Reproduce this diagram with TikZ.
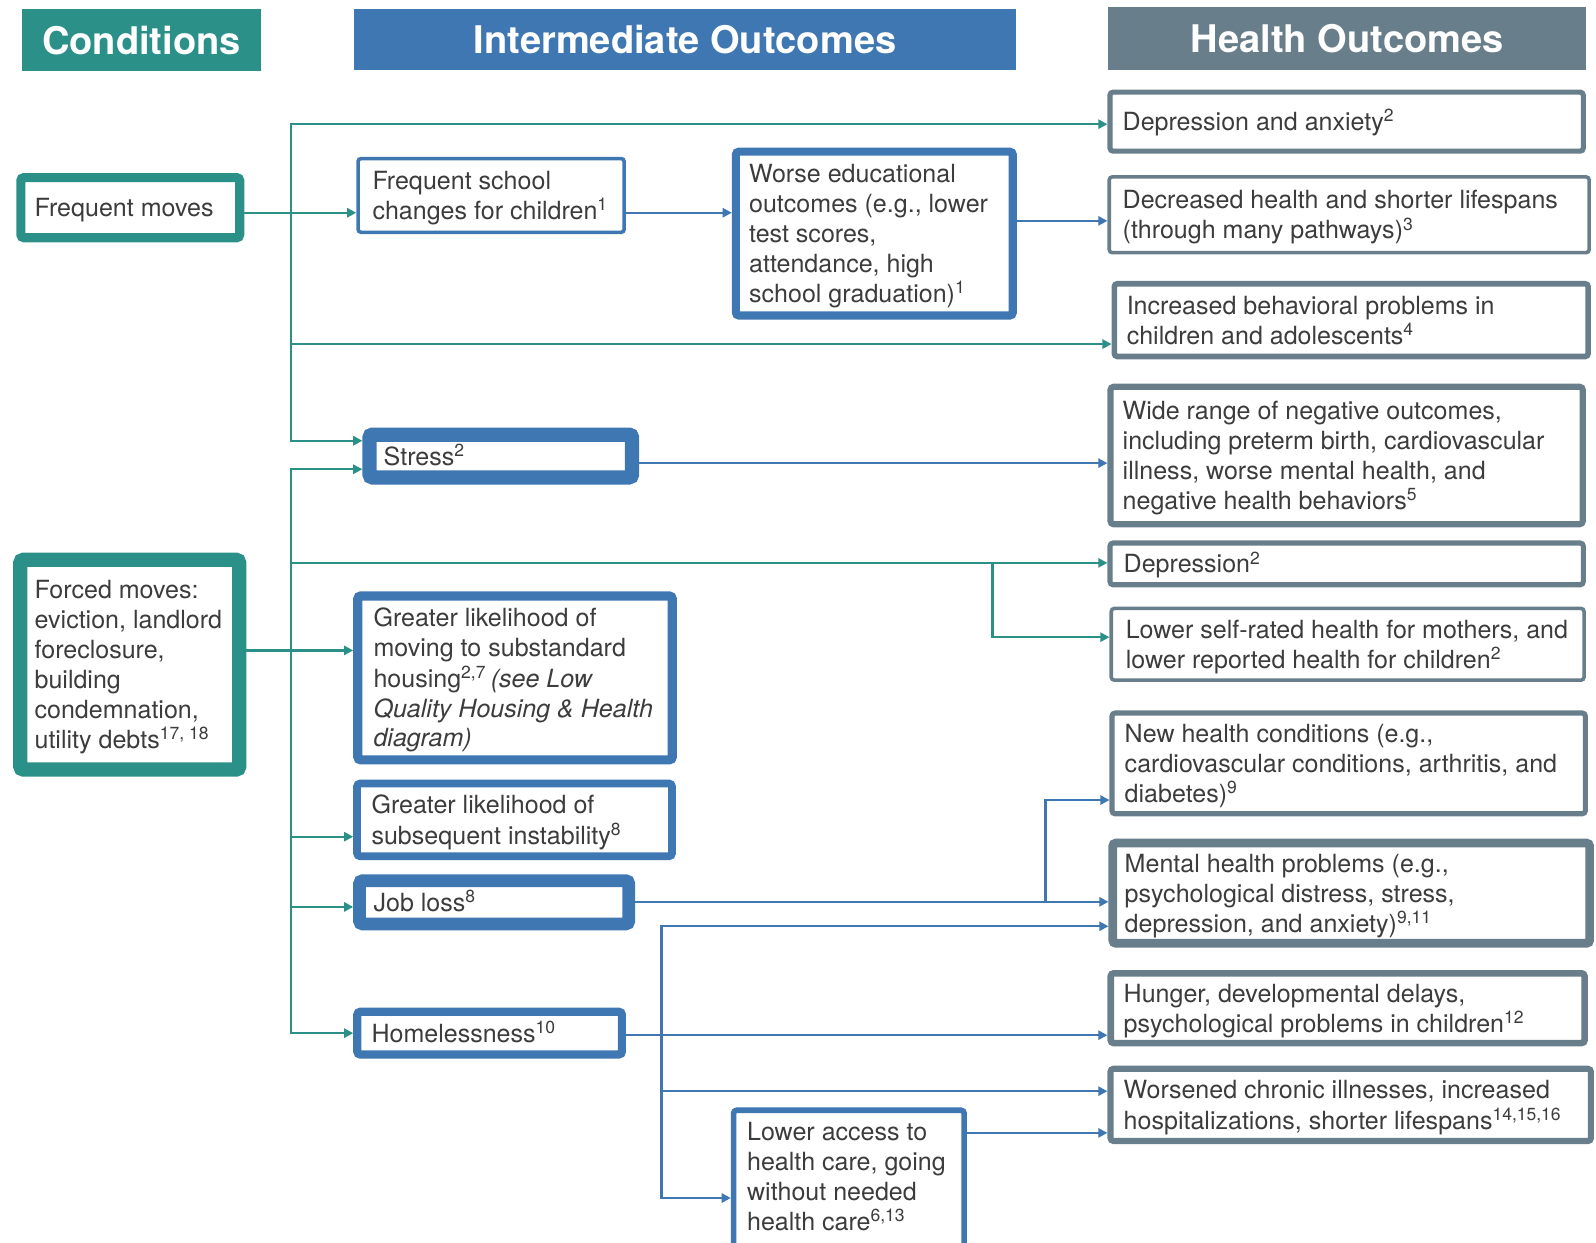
\documentclass[tikz,border=0pt]{standalone}
\usepackage{fontspec}
\setmainfont{TeX Gyre Heros}
\usetikzlibrary{arrows.meta}
\definecolor{condteal}{HTML}{2B9088}
\definecolor{interblue}{HTML}{3F77B3}
\definecolor{healthgray}{HTML}{687F8B}
\definecolor{txtgray}{HTML}{3C3C3C}
\newcommand{\bodyfont}{\fontsize{12.3}{14.7}\selectfont}
\newcommand{\headfont}{\fontsize{18.7}{22}\selectfont\bfseries}
\newcommand{\boxlines}[2]{\makebox[#1][l]{\begin{tabular}{@{}l@{}}\rule{0pt}{13.3pt}#2\end{tabular}}}
\newcommand{\rf}[1]{\textsuperscript{#1}}
\tikzset{
  header/.style  = {rectangle, inner sep=0pt, text=white, font=\headfont},
  basebox/.style = {rectangle, rounded corners=1.5pt, fill=white,
                    inner sep=0pt, text=txtgray, font=\bodyfont},
  condbox/.style   = {basebox, draw=condteal},
  interbox/.style  = {basebox, draw=interblue},
  healthbox/.style = {basebox, draw=healthgray},
  tline/.style  = {draw=condteal, line width=1.15pt, line cap=rect},
  tarrow/.style = {tline, -{Triangle[length=4.5pt,width=4.5pt]}},
  bline/.style  = {draw=interblue, line width=1.15pt, line cap=rect},
  barrow/.style = {bline, -{Triangle[length=4.5pt,width=4.5pt]}}
}

\begin{document}
\begin{tikzpicture}[x=0.5pt,y=-0.5pt]
 \useasboundingbox (0,0) rectangle (1568,1221);
 \clip (0,0) rectangle (1568,1221);

 % column headers
 \node [header, fill=condteal, minimum width=117pt, minimum height=30.5pt]
   (h-cond) at (139,39.5) {Conditions};
 \node [header, fill=interblue, minimum width=325pt, minimum height=30pt]
   (h-inter) at (673,39) {Intermediate Outcomes};
 \node [header, fill=healthgray, minimum width=234.5pt, minimum height=31pt]
   (h-health) at (1323.5,38) {Health Outcomes};

 % conditions
 \node [condbox, line width=4.5pt, minimum width=107.5pt, minimum height=29.5pt]
   (freq) at (128,204) {\boxlines{94pt}{Frequent moves}};
 \node [condbox, line width=7pt, minimum width=107.5pt, minimum height=103pt]
   (forced) at (127.5,653) {\boxlines{93.5pt}{Forced moves:\\ eviction, landlord\\
     foreclosure,\\ building\\ condemnation,\\ utility debts\rf{17, 18}}};

 % intermediate outcomes
 \node [interbox, line width=1.75pt, minimum width=130.75pt, minimum height=36.25pt]
   (school) at (482.5,192) {\boxlines{116.5pt}{Frequent school\\ changes for children\rf{1}}};
 \node [interbox, line width=4pt, minimum width=136pt, minimum height=80.5pt]
   (educ) at (859,229.5) {\boxlines{123pt}{Worse educational\\ outcomes (e.g., lower\\
     test scores,\\ attendance, high\\ school graduation)\rf{1}}};
 \node [interbox, line width=7pt, minimum width=129pt, minimum height=21pt]
   (stress) at (492,448) {\boxlines{115pt}{Stress\rf{2}}};
 \node [interbox, line width=4.5pt, minimum width=154.5pt, minimum height=80.5pt]
   (substd) at (506,666) {\boxlines{139pt}{Greater likelihood of\\ moving to substandard\\
     housing\rf{2,7}\,\textit{(see Low}\\ \textit{Quality Housing \& Health}\\ \textit{diagram)}}};
 \node [interbox, line width=3.75pt, minimum width=154.75pt, minimum height=35.75pt]
   (instab) at (505.5,805.5) {\boxlines{140.5pt}{Greater likelihood of\\ subsequent instability\rf{8}}};
 \node [interbox, line width=6.25pt, minimum width=132.25pt, minimum height=21.25pt]
   (job) at (485.5,886.5) {\boxlines{118.5pt}{Job loss\rf{8}}};
 \node [interbox, line width=4pt, minimum width=130pt, minimum height=21pt]
   (homeless) at (481,1015) {\boxlines{116pt}{Homelessness\rf{10}}};
 \node [interbox, line width=2.75pt, minimum width=113.25pt, minimum height=71.25pt]
   (access) at (834,1162) {\boxlines{100pt}{Lower access to\\ health care, going\\
     without needed\\ health care\rf{6,13}\\[6pt]}};

 % health outcomes
 \node [healthbox, line width=2.5pt, minimum width=232.5pt, minimum height=29pt]
   (dep-anx) at (1323,119.5) {\boxlines{220pt}{Depression and anxiety\rf{2}}};
 \node [healthbox, line width=1.75pt, minimum width=235.75pt, minimum height=37.25pt]
   (lifespan) at (1325.5,211) {\boxlines{222.5pt}{Decreased health and shorter lifespans\\
     (through many pathways)\rf{3}}};
 \node [healthbox, line width=2.75pt, minimum width=232.75pt, minimum height=35.75pt]
   (behav) at (1327.5,314.5) {\boxlines{220.5pt}{Increased behavioral problems in\\
     children and adolescents\rf{4}}};
 \node [healthbox, line width=3pt, minimum width=232pt, minimum height=67.5pt]
   (wide) at (1323,447.5) {\boxlines{220pt}{Wide range of negative outcomes,\\
     including preterm birth, cardiovascular\\ illness, worse mental health, and\\
     negative health behaviors\rf{5}}};
 \node [healthbox, line width=2.5pt, minimum width=232.5pt, minimum height=20.5pt]
   (dep) at (1323,554) {\boxlines{219pt}{Depression\rf{2}}};
 \node [healthbox, line width=1.75pt, minimum width=232.25pt, minimum height=35.25pt]
   (selfrate) at (1324,633) {\boxlines{218pt}{Lower self-rated health for mothers, and\\
     lower reported health for children\rf{2}}};
 \node [healthbox, line width=2.5pt, minimum width=232.5pt, minimum height=49.5pt]
   (newcond) at (1325,750) {\boxlines{220pt}{New health conditions (e.g.,\\
     cardiovascular conditions, arthritis, and\\ diabetes)\rf{9}}};
 \node [healthbox, line width=4.25pt, minimum width=234.25pt, minimum height=49.25pt]
   (mental) at (1327.5,877.5) {\boxlines{222.5pt}{Mental health problems (e.g.,\\
     psychological distress, stress,\\ depression, and anxiety)\rf{9,11}}};
 \node [healthbox, line width=3.25pt, minimum width=232.75pt, minimum height=34.25pt]
   (hunger) at (1324,990.5) {\boxlines{220pt}{Hunger, developmental delays,\\
     psychological problems in children\rf{12}}};
 \node [healthbox, line width=3pt, minimum width=236pt, minimum height=35.5pt]
   (chronic) at (1327,1085.5) {\boxlines{223pt}{Worsened chronic illnesses, increased\\
     hospitalizations, shorter lifespans\rf{14,15,16}}};

 % junction points
 \coordinate (t-top)  at (286,122);
 \coordinate (t-beh)  at (286,338);
 \coordinate (t-st1)  at (286,433);
 \coordinate (t-st2)  at (286,461);
 \coordinate (t-dep)  at (286,553);
 \coordinate (t-ins)  at (286,822);
 \coordinate (t-job)  at (286,891);
 \coordinate (t-home) at (286,1015);
 \coordinate (j-self) at (975,553);
 \coordinate (j-new)  at (1027,886);
 \coordinate (h-top)  at (650,910);
 \coordinate (h-chr)  at (650,1072);
 \coordinate (h-acc)  at (650,1177);

 % frequent moves
 \draw[tarrow] (t-st1) |- (dep-anx.west |- t-top);
 \draw[tarrow] (t-st1) -- (stress.west |- t-st1);
 \draw[tarrow] (t-beh) -- (behav.west |- t-beh);
 \draw[tarrow] (freq.east |- 0,209) -- (school.west |- 0,209);

 % forced moves
 \draw[tarrow] (t-home) |- (stress.west |- t-st2);
 \draw[tarrow] (t-home) -- (homeless.west |- t-home);
 \draw[tarrow] (t-dep) -- (dep.west |- t-dep);
 \draw[tarrow] (j-self) |- (selfrate.west |- 0,626);
 \draw[tarrow] (forced.east |- 0,639) -- (substd.west |- 0,639);
 \draw[tarrow] (t-ins) -- (instab.west |- t-ins);
 \draw[tarrow] (t-job) -- (job.west |- t-job);

 % intermediate to health
 \draw[barrow] (school.east |- 0,209) -- (educ.west |- 0,209);
 \draw[barrow] (educ.east |- 0,217) -- (lifespan.west |- 0,217);
 \draw[barrow] (stress.east |- 0,455) -- (wide.west |- 0,455);
 \draw[barrow] (job.east |- 0,886) -- (mental.west |- 0,886);
 \draw[barrow] (j-new) |- (newcond.west |- 0,786);
 \draw[barrow] (homeless.east |- 0,1017) -- (hunger.west |- 0,1017);
 \draw[barrow] (h-acc) |- (mental.west |- h-top);
 \draw[barrow] (h-acc) -- (access.west |- h-acc);
 \draw[barrow] (h-chr) -- (chronic.west |- h-chr);
 \draw[barrow] (access.east |- 0,1113) -- (chronic.west |- 0,1113);
\end{tikzpicture}
\end{document}
